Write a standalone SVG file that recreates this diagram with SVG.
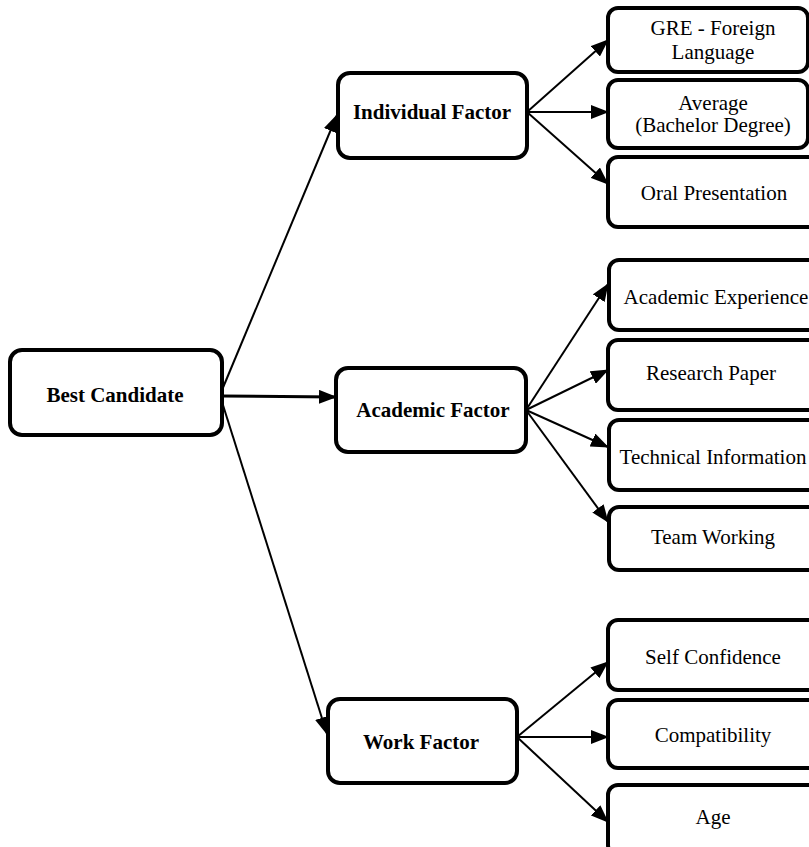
<svg xmlns="http://www.w3.org/2000/svg" width="809" height="847" viewBox="0 0 809 847">
<style>
.box{fill:#fff;stroke:#000;stroke-width:4}
.t{font-family:"Liberation Serif","Times New Roman",serif;font-size:21px;fill:#000;text-anchor:middle}
.b{font-weight:bold}
.c{fill:none;stroke:#000;stroke-width:2}
</style>
<defs>
<marker id="ah" markerUnits="userSpaceOnUse" markerWidth="18" markerHeight="14" refX="17" refY="7" orient="auto">
<path d="M0,0 L18,7 L0,14 Z" fill="#000"/>
</marker>
</defs>
<rect width="809" height="847" fill="#fff"/>
<g id="connectors">
<path class="c" d="M222,390 L337,115" marker-end="url(#ah)"/>
<path class="c" style="stroke-width:3" d="M222,396 L336,397" marker-end="url(#ah)"/>
<path class="c" d="M222,402 L327,734" marker-end="url(#ah)"/>
<path class="c" d="M527,112 L608,40" marker-end="url(#ah)"/>
<path class="c" d="M527,112 L608,112" marker-end="url(#ah)"/>
<path class="c" d="M527,112 L608,184" marker-end="url(#ah)"/>
<path class="c" d="M526,410 L608,284" marker-end="url(#ah)"/>
<path class="c" d="M526,410 L608,370" marker-end="url(#ah)"/>
<path class="c" d="M526,410 L608,447" marker-end="url(#ah)"/>
<path class="c" d="M526,410 L608,522" marker-end="url(#ah)"/>
<path class="c" d="M517,737 L608,662" marker-end="url(#ah)"/>
<path class="c" d="M517,737 L608,737" marker-end="url(#ah)"/>
<path class="c" d="M517,737 L608,822" marker-end="url(#ah)"/>
</g>
<g id="best-candidate"><rect class="box" x="10" y="350" width="212" height="85" rx="12"/><text class="t b" x="115" y="402">Best Candidate</text></g>
<g id="individual-factor"><rect class="box" x="338" y="73" width="189" height="85" rx="12"/><text class="t b" x="432" y="119">Individual Factor</text></g>
<g id="academic-factor"><rect class="box" x="336" y="368" width="190" height="84" rx="12"/><text class="t b" x="433" y="417">Academic Factor</text></g>
<g id="work-factor"><rect class="box" x="328" y="699" width="189" height="84" rx="12"/><text class="t b" x="421" y="749">Work Factor</text></g>
<g id="gre"><rect class="box" x="608" y="8" width="200" height="64" rx="10"/><text class="t" x="713" y="35">GRE - Foreign</text><text class="t" x="713" y="59">Language</text></g>
<g id="average"><rect class="box" x="608" y="80" width="200" height="68" rx="10"/><text class="t" x="713" y="110">Average</text><text class="t" x="713" y="132">(Bachelor Degree)</text></g>
<g id="oral"><rect class="box" x="608" y="157" width="210" height="70" rx="10"/><text class="t" x="714" y="200">Oral Presentation</text></g>
<g id="academic-experience"><rect class="box" x="609" y="260" width="210" height="70" rx="10"/><text class="t" x="716" y="304">Academic Experience</text></g>
<g id="research-paper"><rect class="box" x="608" y="340" width="210" height="70" rx="10"/><text class="t" x="711" y="380">Research Paper</text></g>
<g id="technical-information"><rect class="box" x="609" y="420" width="210" height="70" rx="10"/><text class="t" x="713" y="464">Technical Information</text></g>
<g id="team-working"><rect class="box" x="609" y="507" width="210" height="63" rx="10"/><text class="t" x="713" y="544">Team Working</text></g>
<g id="self-confidence"><rect class="box" x="608" y="620" width="210" height="70" rx="10"/><text class="t" x="713" y="664">Self Confidence</text></g>
<g id="compatibility"><rect class="box" x="608" y="700" width="210" height="68" rx="10"/><text class="t" x="713" y="742">Compatibility</text></g>
<g id="age"><rect class="box" x="608" y="785" width="210" height="70" rx="10"/><text class="t" x="713" y="824">Age</text></g>
</svg>
